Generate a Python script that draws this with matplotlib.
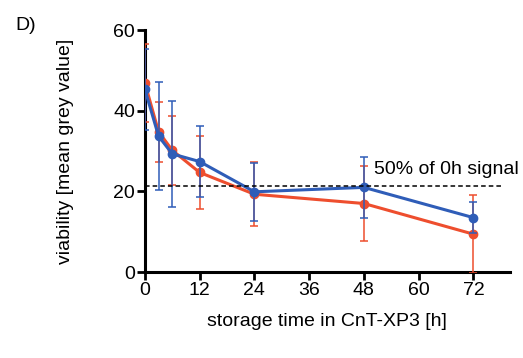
import matplotlib
matplotlib.use("Agg")
import matplotlib.pyplot as plt

plt.rcParams["font.family"] = ["Liberation Sans", "DejaVu Sans"]

# storage time [h]
hours = [0, 3, 6, 12, 24, 48, 72]

# red series
red_mean = [46.9, 34.8, 30.2, 24.7, 19.3, 17.0, 9.4]
red_sd = [9.7, 7.4, 8.6, 9.0, 7.9, 9.3, 9.7]

# blue series
blue_mean = [45.3, 33.7, 29.3, 27.4, 19.9, 21.0, 13.5]
blue_sd = [10.0, 13.4, 13.1, 8.7, 7.2, 7.5, 3.9]

threshold = 21.4
RED = "#EE4E2E"
BLUE = "#2F5DB8"

fig = plt.figure(figsize=(5.23, 3.58), dpi=100)
ax = fig.add_axes([0.277, 0.240, 0.698, 0.676])

ax.errorbar(hours, red_mean, yerr=red_sd, color=RED, linewidth=2.2, marker="o",
            markersize=6, elinewidth=1.1, capsize=3, capthick=1.1, zorder=3)
ax.errorbar(hours, blue_mean, yerr=blue_sd, color=BLUE, linewidth=2.2, marker="o",
            markersize=6, elinewidth=1.1, capsize=3, capthick=1.1, zorder=4)

ax.hlines(threshold, 0, 78.7, colors="black", linestyles=(0, (3, 2)), linewidth=1.1, zorder=5)
ax.text(50.3, 23.3, "50% of 0h signal", fontsize=14, ha="left", va="bottom")

ax.set_xlim(0, 80)
ax.set_ylim(0, 60)
ax.set_xticks([0, 12, 24, 36, 48, 60, 72])
ax.set_yticks([0, 20, 40, 60])
ax.spines["top"].set_visible(False)
ax.spines["right"].set_visible(False)
ax.spines["left"].set_linewidth(2.2)
ax.spines["bottom"].set_linewidth(2.2)
ax.tick_params(direction="out", length=6, width=2, labelsize=14, pad=1)

ax.set_xlabel("storage time in CnT-XP3 [h]", fontsize=14, labelpad=10)
ax.set_ylabel("viability [mean grey value]", fontsize=14, labelpad=28)

fig.text(0.03, 0.915, "D)", fontsize=14)

fig.savefig("out.png", dpi=100)
